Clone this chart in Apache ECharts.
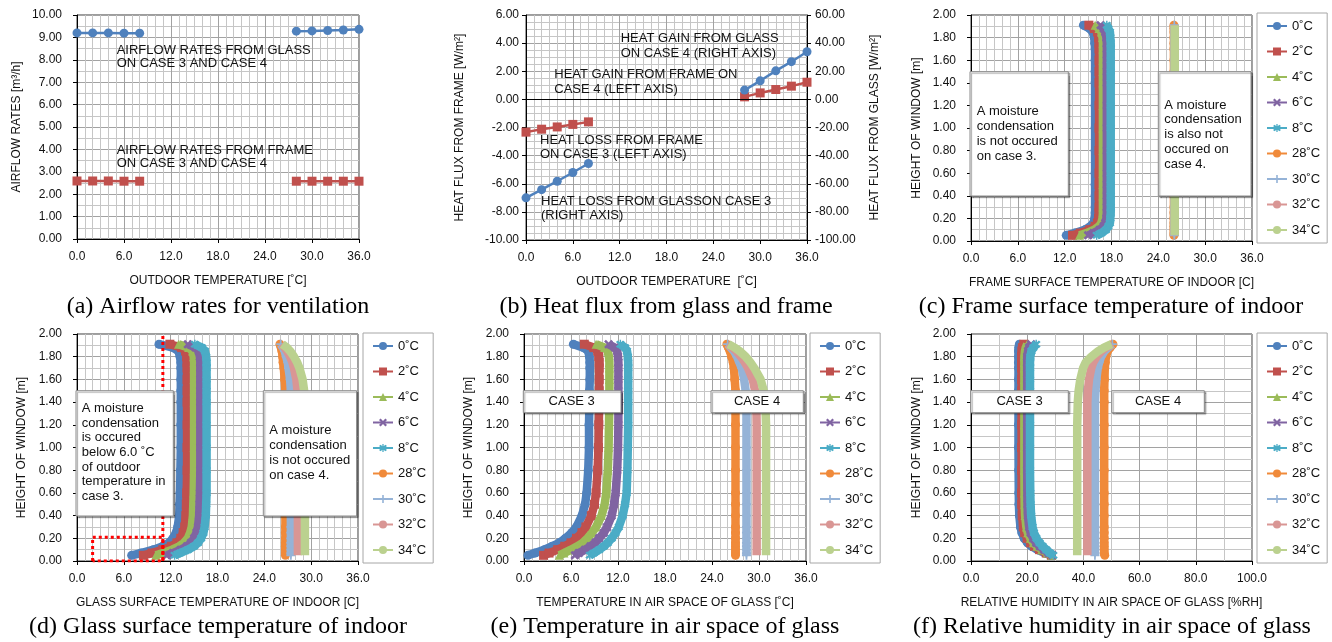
<!DOCTYPE html>
<html><head><meta charset="utf-8">
<script src="https://cdn.jsdelivr.net/npm/echarts@6/dist/echarts.min.js"></script>
<style>html,body{margin:0;padding:0;background:#fff}#c{width:1332px;height:642px}</style>
</head><body><div id="c"></div>
<script>
// ---------------- DATA ----------------
const OUTDOOR_CASE3 = [0, 2, 4, 6, 8];
const OUTDOOR_CASE4 = [28, 30, 32, 34, 36];
// (a) airflow rates [m3/h]
const airflowGlass3 = [9.20, 9.20, 9.20, 9.19, 9.19];
const airflowGlass4 = [9.28, 9.29, 9.31, 9.33, 9.36];
const airflowFrame3 = [2.59, 2.59, 2.59, 2.58, 2.58];
const airflowFrame4 = [2.58, 2.58, 2.58, 2.58, 2.58];
// (b) heat flux [W/m2]  glass -> right axis, frame -> left axis
const heatGlass3 = [-70.0, -64.2, -58.2, -52.0, -45.6];
const heatGlass4 = [6.6, 13.2, 20.3, 26.8, 33.9];
const heatFrame3 = [-2.33, -2.12, -1.96, -1.78, -1.60];
const heatFrame4 = [0.18, 0.46, 0.70, 0.94, 1.22];

// heights of window [m] for the profiles (c)-(f)
const H = [0.05, 0.07, 0.10, 0.13, 0.16, 0.20, 0.25, 0.30, 0.40, 0.50, 0.60, 0.80, 1.00, 1.20, 1.40, 1.50, 1.60, 1.70, 1.75, 1.80, 1.85, 1.88, 1.91];
const SERIES_NAMES = ['0˚C','2˚C','4˚C','6˚C','8˚C','28˚C','30˚C','32˚C','34˚C'];

// (c) frame surface temperature of indoor [C]
const frame0  = [12.2,13.3,14.6,15.3,15.7,15.85,15.9,15.9,15.9,15.9,15.9,15.9,15.9,15.9,15.9,15.9,15.9,15.9,15.85,15.8,15.6,15.2,14.4];
const frame2  = [13.0,14.0,15.2,15.9,16.2,16.35,16.4,16.4,16.4,16.4,16.4,16.4,16.4,16.4,16.4,16.4,16.4,16.4,16.4,16.35,16.2,15.8,15.1];
const frame4  = [13.9,14.8,15.8,16.4,16.7,16.85,16.9,16.9,16.9,16.9,16.9,16.9,16.9,16.9,16.9,16.9,16.9,16.9,16.9,16.85,16.7,16.4,15.9];
const frame6  = [15.0,15.7,16.5,17.0,17.2,17.35,17.4,17.4,17.4,17.4,17.4,17.4,17.4,17.4,17.4,17.4,17.4,17.4,17.4,17.35,17.2,17.0,16.6];
const frame8  = [16.1,16.7,17.3,17.6,17.8,17.85,17.9,17.9,17.9,17.9,17.9,17.9,17.9,17.9,17.9,17.9,17.9,17.9,17.9,17.85,17.8,17.6,17.4];
const frame28 = [26.0,26.0,26.0,26.0,26.0,26.0,26.0,26.0,26.0,26.0,26.0,26.0,26.0,26.0,26.0,26.0,26.0,26.0,26.0,26.0,26.0,26.0,26.0];
const frame30 = [26.05,26.05,26.05,26.05,26.05,26.05,26.05,26.05,26.05,26.05,26.05,26.05,26.05,26.05,26.05,26.05,26.05,26.05,26.05,26.05,26.05,26.05,26.05];
const frame32 = [26.1,26.1,26.1,26.1,26.1,26.1,26.1,26.1,26.1,26.1,26.1,26.1,26.1,26.1,26.1,26.1,26.1,26.1,26.1,26.1,26.1,26.1,26.1];
const frame34 = [26.1,26.1,26.1,26.1,26.1,26.1,26.1,26.1,26.1,26.1,26.1,26.1,26.1,26.1,26.1,26.1,26.1,26.1,26.1,26.1,26.1,26.1,26.1];

// (d) glass surface temperature of indoor [C]
const glass0  = [7.0,8.2,9.8,11.0,11.8,12.3,12.7,12.9,13.1,13.15,13.2,13.25,13.3,13.3,13.3,13.3,13.3,13.3,13.3,13.2,13.0,12.3,10.5];
const glass2  = [8.5,9.6,11.0,12.1,12.8,13.3,13.6,13.8,13.95,14.0,14.05,14.1,14.1,14.1,14.1,14.1,14.1,14.1,14.1,14.05,13.9,13.4,11.9];
const glass4  = [10.1,11.0,12.2,13.1,13.7,14.2,14.5,14.7,14.85,14.9,14.95,15.0,15.0,15.0,15.0,15.0,15.0,15.0,15.0,14.95,14.8,14.3,13.0];
const glass6  = [11.5,12.3,13.3,14.1,14.6,15.0,15.3,15.5,15.65,15.7,15.75,15.8,15.8,15.8,15.8,15.8,15.8,15.8,15.8,15.75,15.6,15.2,14.2];
const glass8  = [12.5,13.2,14.2,15.0,15.5,15.9,16.2,16.35,16.5,16.55,16.6,16.6,16.6,16.6,16.6,16.6,16.6,16.6,16.6,16.55,16.4,16.0,15.1];
const glass28 = [26.7,26.7,26.7,26.7,26.7,26.7,26.7,26.7,26.7,26.7,26.7,26.7,26.7,26.7,26.7,26.7,26.6,26.5,26.4,26.35,26.25,26.15,26.0];
const glass30 = [27.4,27.4,27.4,27.4,27.4,27.4,27.4,27.4,27.4,27.4,27.4,27.4,27.4,27.4,27.4,27.4,27.3,27.1,27.0,26.8,26.6,26.4,26.1];
const glass32 = [28.3,28.3,28.3,28.3,28.3,28.3,28.3,28.3,28.3,28.3,28.3,28.3,28.3,28.3,28.3,28.25,28.1,27.8,27.6,27.3,26.9,26.6,26.2];
const glass34 = [29.2,29.2,29.2,29.2,29.2,29.2,29.2,29.2,29.2,29.2,29.2,29.2,29.2,29.2,29.15,29.1,28.9,28.5,28.2,27.8,27.3,26.9,26.3];

// (e) temperature in air space of glass [C]
const air0  = [0.5,1.4,2.6,3.6,4.5,5.3,6.1,6.7,7.4,7.8,8.0,8.2,8.3,8.3,8.35,8.35,8.4,8.4,8.4,8.35,8.2,7.6,6.3];
const air2  = [2.5,3.2,4.3,5.2,6.0,6.7,7.4,7.9,8.6,9.0,9.2,9.4,9.5,9.55,9.6,9.6,9.6,9.6,9.6,9.55,9.4,8.9,7.7];
const air4  = [4.5,5.1,6.0,6.8,7.5,8.1,8.7,9.2,9.9,10.3,10.5,10.7,10.8,10.85,10.9,10.9,10.9,10.9,10.9,10.85,10.7,10.3,9.2];
const air6  = [6.5,7.0,7.8,8.5,9.1,9.6,10.2,10.6,11.2,11.5,11.7,11.9,12.0,12.05,12.05,12.05,12.05,12.05,12.05,12.0,11.9,11.6,10.8];
const air8  = [8.4,8.9,9.6,10.2,10.7,11.2,11.7,12.1,12.6,12.9,13.1,13.2,13.25,13.3,13.3,13.3,13.3,13.3,13.3,13.25,13.15,12.9,12.3];
const air28 = [27.0,27.0,27.0,27.0,27.0,27.0,27.0,27.0,27.0,27.0,27.0,27.0,27.0,27.0,27.0,27.0,26.9,26.8,26.7,26.5,26.3,26.1,25.9];
const air30 = [28.4,28.4,28.4,28.4,28.4,28.4,28.4,28.4,28.4,28.4,28.4,28.4,28.4,28.4,28.4,28.3,28.1,27.8,27.5,27.2,26.8,26.4,26.0];
const air32 = [29.7,29.7,29.7,29.7,29.7,29.7,29.7,29.7,29.7,29.7,29.7,29.7,29.7,29.7,29.65,29.5,29.2,28.6,28.2,27.7,27.1,26.6,26.0];
const air34 = [30.9,30.9,30.9,30.9,30.9,30.9,30.9,30.9,30.9,30.9,30.9,30.9,30.9,30.9,30.8,30.6,30.2,29.4,28.9,28.3,27.5,26.9,26.1];

// (f) relative humidity in air space of glass [%RH]
const rh0  = [28.3,26.3,23.6,21.6,20.1,18.9,18.1,17.6,17.2,17.05,17.0,16.95,16.9,16.9,16.9,16.9,16.9,16.9,16.9,16.9,16.9,17.0,17.2];
const rh2  = [28.6,26.8,24.4,22.6,21.2,20.0,19.1,18.6,18.2,18.05,18.0,18.0,18.0,18.0,18.0,18.0,18.0,18.0,18.0,18.0,18.1,18.3,18.8];
const rh4  = [28.8,27.2,25.2,23.5,22.2,21.1,20.2,19.7,19.25,19.1,19.05,19.0,19.0,19.0,19.0,19.0,19.0,19.0,19.0,19.0,19.2,19.5,20.0];
const rh6  = [29.0,27.6,26.0,24.5,23.2,22.1,21.2,20.7,20.25,20.1,20.05,20.0,20.0,20.0,20.0,20.0,20.0,20.0,20.0,20.0,20.3,20.7,21.4];
const rh8  = [29.3,28.1,26.8,25.5,24.4,23.3,22.4,21.9,21.4,21.2,21.1,21.0,21.0,21.0,21.0,21.0,21.0,21.0,21.0,21.1,21.5,22.2,23.2];
const rh28 = [47.6,47.4,47.4,47.4,47.4,47.4,47.4,47.4,47.4,47.4,47.4,47.4,47.4,47.4,47.4,47.4,47.5,47.6,47.8,48.0,48.6,49.5,50.5];
const rh30 = [44.1,44.1,44.1,44.1,44.1,44.1,44.1,44.1,44.1,44.1,44.1,44.1,44.1,44.1,44.1,44.3,44.6,45.1,45.6,46.3,47.5,48.8,50.3];
const rh32 = [41.4,41.4,41.4,41.4,41.4,41.4,41.4,41.4,41.4,41.4,41.4,41.4,41.4,41.4,41.4,41.6,42.0,42.8,43.5,44.7,46.5,48.0,50.2];
const rh34 = [37.8,37.8,37.8,37.8,37.8,37.8,37.8,37.8,37.8,37.8,37.8,37.8,37.8,37.8,38.0,38.3,38.9,39.9,40.8,42.8,45.3,47.3,50.0];

// (d) condensation marks (red dotted)
const condRectX = [2.0, 11.0];
const condRectTop = 0.21;
const condLineX = 11.0;

// ---------------- STYLE ----------------
const FONT = 'Liberation Sans, Arial, sans-serif';
const SERIF = 'Liberation Serif, Times New Roman, serif';
const MAJ = '#a2a2a2', MIN = '#c6c6c6';
const COLORS = ['#4F81BD','#C0504D','#9BBB59','#8064A2','#4BACC6','#F08A3A','#95B3D7','#D99694','#BBD18F'];
const X_SYM = 'path://M2,0L5,3L8,0L10,2L7,5L10,8L8,10L5,7L2,10L0,8L3,5L0,2Z';
const AST_SYM = 'path://M2,0L5,3L8,0L10,2L7,5L10,8L8,10L5,7L2,10L0,8L3,5L0,2Z M4.2,-1H5.8V11H4.2Z';
const PLUS_SYM = 'path://M4,0H6V4H10V6H6V10H4V6H0V4H4Z';
const SYMBOLS = ['circle','rect','triangle',X_SYM,AST_SYM,'circle',PLUS_SYM,'none','none'];

const GRIDS = [
  {left:77, top:15, width:282, height:224},
  {left:526, top:15, width:281, height:225},
  {left:971, top:15, width:281, height:226},
  {left:77, top:334, width:281, height:227},
  {left:524, top:334, width:282, height:227},
  {left:971, top:334, width:281, height:227}
].map(g => Object.assign({show:true, borderColor:'#3a3a3a', borderWidth:1, backgroundColor:'transparent'}, g));

const LBL = {fontFamily:FONT, fontSize:12, color:'#111'};

function xAxisOf(gi, max, interval, minorN, name) {
  return {
    type:'value', gridIndex:gi, min:0, max, interval,
    name, nameLocation:'middle', nameGap:36,
    nameTextStyle:{fontFamily:FONT, fontSize:12, color:'#111'},
    axisLine:{show:true, onZero:false, lineStyle:{color:'#000', width:1}},
    axisTick:{show:true, length:4, lineStyle:{color:'#000'}},
    axisLabel:Object.assign({margin:12, formatter:v=>v.toFixed(1)}, LBL),
    splitLine:{show:true, lineStyle:{color:MAJ, width:1}},
    minorTick:{show:false, splitNumber:minorN},
    minorSplitLine:{show:true, lineStyle:{color:MIN, width:1}}
  };
}
function yAxisOf(gi, min, max, interval, minorN, name, gap, margin, pos) {
  return {
    type:'value', gridIndex:gi, min, max, interval, position:pos||'left',
    name, nameLocation:'middle', nameGap:gap, nameRotate:90,
    nameTextStyle:{fontFamily:FONT, fontSize:12, color:'#111'},
    axisLine:{show:true, onZero:false, lineStyle:{color:'#000', width:1}},
    axisTick:{show:true, length:4, lineStyle:{color:'#000'}},
    axisLabel:Object.assign({margin, formatter:v=>v.toFixed(2)}, LBL),
    splitLine:{show:minorN>0, lineStyle:{color:MAJ, width:1}},
    minorTick:{show:false, splitNumber:minorN||2},
    minorSplitLine:{show:minorN>0, lineStyle:{color:MIN, width:1}}
  };
}

const xAxes = [
  xAxisOf(0, 36, 6, 6, 'OUTDOOR TEMPERATURE [˚C]'),
  xAxisOf(1, 36, 6, 6, 'OUTDOOR TEMPERATURE  [˚C]'),
  xAxisOf(2, 36, 6, 6, 'FRAME SURFACE TEMPERATURE OF INDOOR [C]'),
  xAxisOf(3, 36, 6, 6, 'GLASS SURFACE TEMPERATURE OF INDOOR [C]'),
  xAxisOf(4, 36, 6, 6, 'TEMPERATURE IN AIR SPACE OF GLASS [˚C]'),
  xAxisOf(5, 100, 20, 2, 'RELATIVE HUMIDITY IN AIR SPACE OF GLASS [%RH]')
];
const yAxes = [
  yAxisOf(0, 0, 10, 1, 2, 'AIRFLOW RATES [m³/h]', 54, 15),
  yAxisOf(1, -10, 6, 2, 4, 'HEAT FLUX FROM FRAME [W/m²]', 60, 7),
  yAxisOf(1, -100, 60, 20, 0, 'HEAT FLUX FROM GLASS [W/m²]', 62, 8, 'right'),
  yAxisOf(2, 0, 2, 0.2, 2, 'HEIGHT OF WINDOW [m]', 48, 15),
  yAxisOf(3, 0, 2, 0.2, 2, 'HEIGHT OF WINDOW [m]', 49, 15),
  yAxisOf(4, 0, 2, 0.2, 2, 'HEIGHT OF WINDOW [m]', 49, 15),
  yAxisOf(5, 0, 2, 0.2, 2, 'HEIGHT OF WINDOW [m]', 48, 15)
];

function pairs(xs, ys) { return xs.map((x, i) => [x, ys[i]]); }
function pointSeries(name, xs, ys, xi, yi, color, symbol, extra) {
  return Object.assign({
    type:'line', name, xAxisIndex:xi, yAxisIndex:yi, data:pairs(xs, ys),
    symbol, symbolSize:9, lineStyle:{color, width:2.5}, itemStyle:{color},
    z:3
  }, extra||{});
}
function profileSeries(list, xi, yi) {
  return list.map((xs, i) => ({
    type:'line', name:SERIES_NAMES[i], xAxisIndex:xi, yAxisIndex:yi,
    data:H.map((h, k) => [xs[k], h]),
    symbol:SYMBOLS[i], symbolSize:9, showSymbol:SYMBOLS[i] !== 'none',
    lineStyle:{color:COLORS[i], width:8.5, join:'round', cap:'butt'},
    itemStyle:{color:COLORS[i]},
    z:2 + i
  }));
}

const series = [
  pointSeries('glass3', OUTDOOR_CASE3, airflowGlass3, 0, 0, COLORS[0], 'circle'),
  pointSeries('glass4', OUTDOOR_CASE4, airflowGlass4, 0, 0, COLORS[0], 'circle'),
  pointSeries('frame3', OUTDOOR_CASE3, airflowFrame3, 0, 0, COLORS[1], 'rect'),
  pointSeries('frame4', OUTDOOR_CASE4, airflowFrame4, 0, 0, COLORS[1], 'rect'),
  pointSeries('hframe3', OUTDOOR_CASE3, heatFrame3, 1, 1, COLORS[1], 'rect', {
    markLine:{silent:true, symbol:['none','none'], label:{show:false},
      lineStyle:{color:'#000', width:1, type:'solid'}, data:[{yAxis:0}], animation:false}
  }),
  pointSeries('hframe4', OUTDOOR_CASE4, heatFrame4, 1, 1, COLORS[1], 'rect'),
  pointSeries('hglass3', OUTDOOR_CASE3, heatGlass3, 1, 2, COLORS[0], 'circle'),
  pointSeries('hglass4', OUTDOOR_CASE4, heatGlass4, 1, 2, COLORS[0], 'circle'),
  ...profileSeries([frame0,frame2,frame4,frame6,frame8,frame28,frame30,frame32,frame34], 2, 3),
  ...profileSeries([glass0,glass2,glass4,glass6,glass8,glass28,glass30,glass32,glass34], 3, 4),
  ...profileSeries([air0,air2,air4,air6,air8,air28,air30,air32,air34], 4, 5),
  ...profileSeries([rh0,rh2,rh4,rh6,rh8,rh28,rh30,rh32,rh34], 5, 6),
  {type:'line', name:'condRect', xAxisIndex:3, yAxisIndex:4, symbol:'none', z:20,
   data:[[condRectX[0],0],[condRectX[0],condRectTop],[condRectX[1],condRectTop],[condRectX[1],0],[condRectX[0],0]],
   lineStyle:{color:'#FF0000', width:3, type:[3,3]}},
  {type:'line', name:'condLine', xAxisIndex:3, yAxisIndex:4, symbol:'none', z:20,
   data:[[condLineX,0],[condLineX,2]],
   lineStyle:{color:'#FF0000', width:3, type:[3,3]}}
];

function legendAt(left, top) {
  return {
    orient:'vertical', left, top, data:SERIES_NAMES, selectedMode:false,
    itemWidth:20, itemHeight:10, itemGap:11.5, padding:[6,7,6,9],
    backgroundColor:'#fff', borderColor:'#a6a6a6', borderWidth:1,
    textStyle:{fontFamily:FONT, fontSize:13, color:'#111', lineHeight:14},
    z:50
  };
}

function box(x, y, w, h) {
  return {type:'rect', z:99, shape:{x, y, width:w, height:h},
    style:{fill:'#fff', stroke:'#8a8a8a', lineWidth:1, shadowColor:'rgba(0,0,0,0.35)', shadowOffsetX:1.5, shadowOffsetY:1.5, shadowBlur:1}};
}
function txt(x, y, text, opt) {
  return {type:'text', z:100, x, y,
    style:Object.assign({text, fontFamily:FONT, fontSize:13, fill:'#111', align:'left', verticalAlign:'top', lineHeight:14.6}, opt||{})};
}
function caption(x, y, text) {
  return {type:'text', z:100, x, y,
    style:{text, fontFamily:SERIF, fontSize:24, fill:'#000', align:'center', verticalAlign:'middle'}};
}

const graphic = [
  // (a)
  txt(116.7, 43.4, 'AIRFLOW RATES FROM GLASS\nON CASE 3 AND CASE 4', {lineHeight:13.6}),
  txt(116.7, 143.4, 'AIRFLOW RATES FROM FRAME\nON CASE 3 AND CASE 4', {lineHeight:13.6}),
  // (b)
  txt(620.7, 30.8, 'HEAT GAIN FROM GLASS\nON CASE 4 (RIGHT AXIS)', {lineHeight:15}),
  txt(554.3, 66.5, 'HEAT GAIN FROM FRAME ON\nCASE 4 (LEFT AXIS)', {lineHeight:15}),
  txt(540, 133.6, 'HEAT LOSS FROM FRAME\nON CASE 3 (LEFT AXIS)', {lineHeight:13.8}),
  txt(541, 194.3, 'HEAT LOSS FROM GLASSON CASE 3\n(RIGHT AXIS)', {lineHeight:14}),
  // (c)
  box(970, 71.7, 98.3, 124.3),
  txt(976.7, 104.2, 'A moisture\ncondensation\nis not occured\non case 3.', {lineHeight:14.9}),
  box(1158.3, 71.7, 92.7, 124.3),
  txt(1164.3, 97.6, 'A moisture\ncondensation\nis also not\noccured on\ncase 4.', {lineHeight:14.75}),
  // (d)
  box(76, 390.7, 97.3, 125.3),
  txt(81.7, 401, 'A moisture\ncondensation\nis occured\nbelow 6.0 ˚C\nof outdoor\ntemperature in\ncase 3.', {lineHeight:14.7}),
  box(263.3, 390.7, 93.3, 125.3),
  txt(269.3, 422.6, 'A moisture\ncondensation\nis not occured\non case 4.', {lineHeight:15}),
  // (e)
  box(523.3, 390.7, 97.7, 22),
  txt(571.7, 401.7, 'CASE 3', {align:'center', verticalAlign:'middle'}),
  box(711, 390.7, 92.3, 22),
  txt(757, 401.7, 'CASE 4', {align:'center', verticalAlign:'middle'}),
  // (f)
  box(970.7, 390.7, 97.6, 22),
  txt(1019.5, 401.7, 'CASE 3', {align:'center', verticalAlign:'middle'}),
  box(1111.7, 390.7, 92.6, 22),
  txt(1158, 401.7, 'CASE 4', {align:'center', verticalAlign:'middle'}),
  // captions
  caption(218, 307, '(a) Airflow rates for ventilation'),
  caption(666, 307, '(b) Heat flux from glass and frame'),
  caption(1111, 307, '(c) Frame surface temperature of indoor'),
  caption(218, 627, '(d) Glass surface temperature of indoor'),
  caption(665, 627, '(e) Temperature in air space of glass'),
  caption(1112, 627, '(f) Relative humidity in air space of glass')
];

const chart = echarts.init(document.getElementById('c'), null, {renderer:'canvas'});
chart.setOption({
  animation:false,
  backgroundColor:'#fff',
  grid:GRIDS,
  xAxis:xAxes,
  yAxis:yAxes,
  legend:[legendAt(1257, 13), legendAt(363, 333), legendAt(810, 333), legendAt(1257, 333)],
  series,
  graphic
});
</script></body></html>
